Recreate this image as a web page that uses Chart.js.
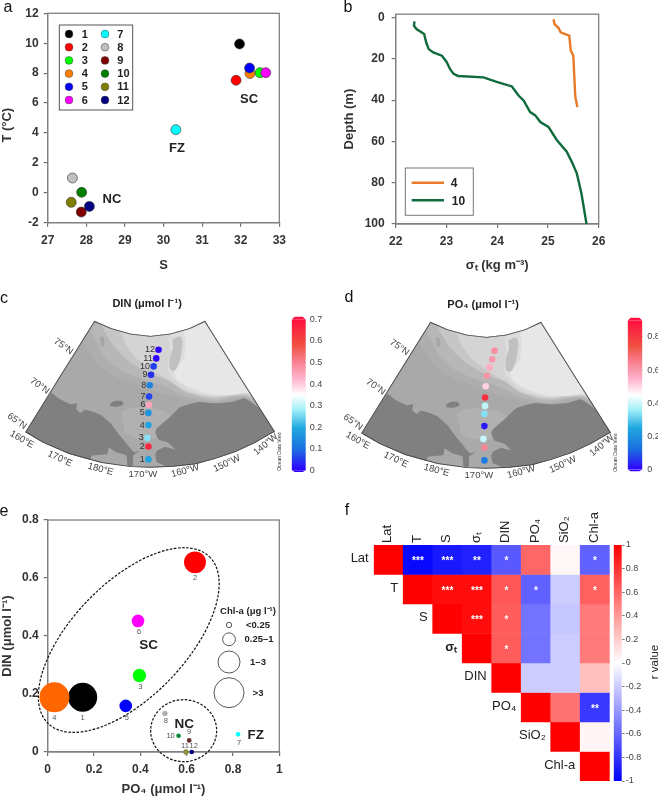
<!DOCTYPE html>
<html><head><meta charset="utf-8">
<script src="https://cdn.jsdelivr.net/npm/chart.js@4"></script>
<style>
html,body{margin:0;padding:0;background:#fff;width:658px;height:797px;overflow:hidden}
#page{position:relative;width:658px;height:797px}
canvas{position:absolute;filter:blur(0.3px)}
</style></head><body><div id="page"></div>
<script>
// ---------- data ----------
const stations=['1','2','3','4','5','6','7','8','9','10','11','12'];
const stationColors=['#000000','#ff0000','#00ff00','#ff8000','#0000ff','#ff00ff','#00ffff','#c0c0c0','#800000','#008000','#808000','#000080'];
const salinity=[31.97,31.88,32.5,32.24,32.23,32.65,30.32,27.64,27.87,27.88,27.61,28.08];
const temperature=[9.95,7.52,8.03,7.97,8.34,8.03,4.22,0.99,-1.29,0.03,-0.64,-0.91];
const sigma4=[25.11,25.13,25.21,25.25,25.42,25.45,25.5,25.52,25.54,25.58];
const depth4=[0.8,3.2,5.1,7.2,8.8,16,18.5,29,38.6,43.4];
const sigma10=[22.37,22.36,22.41,22.56,22.6,22.65,22.74,22.91,23.0,23.07,23.14,23.23,23.73,23.99,24.29,24.42,24.52,24.65,24.75,24.85,25.01,25.17,25.37,25.48,25.57,25.66,25.76];
const depth10=[1.9,4,5.6,8,12,15.3,16.9,18.5,21.4,24.9,27.3,28.3,29,31.2,33.4,37.8,40.2,45.8,47.4,50.6,53,59.2,65,70.4,75.6,85.2,100];
const din=[0.1885,0.654,0.264,0.1885,0.159,0.452,0.061,0.133,0.04,0.056,0,0];
const po4=[0.151,0.636,0.396,0.029,0.337,0.39,0.822,0.506,0.611,0.565,0.597,0.622];
const chlA=[4.55,2.6,0.97,4.87,0.86,0.86,0.11,0.16,0.12,0.12,0.16,0.11];
// station positions on the map, and map shapes, in map units
const stationMapX=[444,444,441,444,444,446,446,448,452,460,468,475];
const stationMapY=[547,507,480,440,402,377,351,316,283,257,232,205];
const sectorShape=[[65,462],[170,290],[278,115],[330,138],[390,155],[450,162],[510,155],[570,138],[618,115],[725,288],[833,460],[770,497],[710,525],[650,545],[590,562],[520,570],[450,573],[390,571],[300,558],[200,530],[120,495]];
const shelfA=[[250,150],[450,130],[650,100],[800,385],[740,358],[640,375],[560,362],[500,347],[430,322],[350,292],[290,252],[255,195],[230,170]];
const shelfB=[[270,100],[450,130],[650,100],[800,383],[740,352],[640,365],[550,348],[500,322],[430,298],[360,268],[310,228],[285,180],[262,140]];
const shelfC=[[290,110],[450,130],[650,100],[800,380],[745,348],[640,358],[560,338],[510,304],[450,280],[390,245],[335,190],[310,150]];
const shelfTop=[[350,130],[450,140],[650,100],[800,378],[745,345],[640,352],[555,332],[505,298],[460,272],[410,235],[375,190]];
const shelfE=[[520,130],[650,100],[800,378],[750,343],[640,350],[565,328],[525,300],[505,270],[510,215],[505,170]];
const shelfD=[[550,130],[650,100],[800,372],[755,340],[700,346],[630,343],[570,322],[530,295],[525,265],[552,235],[558,180]];
const streakWest=[[295,165],[305,165],[308,190],[298,195]];
const streakEast=[[518,172],[543,165],[547,200],[530,265],[512,268],[510,230],[520,200]];
const channel=[[360,400],[400,385],[470,390],[510,410],[500,440],[470,462],[465,480],[380,470],[365,430]];
const russia=[[65,462],[145,340],[170,358],[205,375],[225,372],[222,390],[235,402],[248,392],[270,397],[300,410],[330,437],[350,465],[372,492],[400,525],[418,520],[397,535],[396,568],[380,566],[376,535],[345,525],[322,510],[318,530],[272,535],[262,550],[200,530],[120,495]];
const alaska=[[787,388],[740,356],[700,368],[650,372],[600,368],[570,375],[540,385],[510,415],[470,450],[465,462],[475,485],[505,495],[525,515],[495,508],[470,520],[465,535],[470,555],[500,568],[520,570],[590,562],[650,545],[710,525],[770,497],[833,460]];
const wrangel=[[325,375],[340,365],[360,365],[367,375],[350,382],[330,382]];
const gridLabels=['75°N','70°N','65°N','160°E','170°E','180°E','170°W','160°W','150°W','140°W'];
const gridLabelX=[183,110,40,55,172,297,427,557,685,805];
const gridLabelY=[195,318,428,485,545,578,593,583,560,500];
const gridLabelAngle=[35,35,35,30,25,15,0,-15,-25,-40];
// correlation matrix (upper triangle)
const vars=['Lat','T','S','σₜ','DIN','PO₄','SiO₂','Chl-a'];
const corr=[
[1,-0.97,-0.9,-0.87,-0.65,0.6,0.03,-0.62],
[null,1,0.95,0.95,0.66,-0.62,-0.2,0.62],
[null,null,1,0.95,0.64,-0.55,-0.22,0.52],
[null,null,null,1,0.64,-0.55,-0.2,0.52],
[null,null,null,null,1,-0.2,-0.2,0.25],
[null,null,null,null,null,1,0.55,-0.78],
[null,null,null,null,null,null,1,0.04],
[null,null,null,null,null,null,null,1]];
const stars=[
['','***','***','**','*','','','*'],
['','','***','***','*','*','','*'],
['','','','***','*','','',''],
['','','','','*','','',''],
[],[ '','','','','','','','**'],[],[]];
const odvStops=[[0,'#3000ff'],[0.14,'#1a70e0'],[0.28,'#20a8e0'],[0.4,'#a0f0f8'],[0.5,'#ffffff'],[0.6,'#ffb8d0'],[0.72,'#f88090'],[0.83,'#f05040'],[1,'#ff1040']];
const rStops=[[0,'#0000ff'],[0.5,'#ffffff'],[1,'#ff0000']];

// ---------- helpers ----------
const FONT='"Liberation Sans",Arial,sans-serif';
Chart.defaults.font.family=FONT;
Chart.defaults.animation=false;
Chart.defaults.responsive=false;
Chart.defaults.plugins.legend.display=false;
Chart.defaults.plugins.tooltip.enabled=false;
const page=document.getElementById('page');
function canvas(l,t,w,h){const c=document.createElement('canvas');c.width=w;c.height=h;c.style.left=l+'px';c.style.top=t+'px';c.style.width=w+'px';c.style.height=h+'px';page.appendChild(c);return c;}
function txt(ctx,s,x,y,font,color,align,rot){ctx.save();ctx.translate(x,y);if(rot)ctx.rotate(rot*Math.PI/180);ctx.font=font;ctx.fillStyle=color||'#222';ctx.textAlign=align||'center';ctx.textBaseline='middle';ctx.fillText(s,0,0);ctx.restore();}
function hex(h){return [1,3,5].map(i=>parseInt(h.substr(i,2),16));}
function ramp(stops,t){t=Math.max(0,Math.min(1,t));for(let i=1;i<stops.length;i++){if(t<=stops[i][0]){const a=stops[i-1],b=stops[i],f=(t-a[0])/(b[0]-a[0]),A=hex(a[1]),B=hex(b[1]);return 'rgb('+A.map((v,k)=>Math.round(v+(B[k]-v)*f)).join(',')+')';}}return stops[stops.length-1][1];}
const frame={id:'frame',beforeDatasetsDraw(ch){const a=ch.chartArea,c=ch.ctx;c.save();c.strokeStyle='#808080';c.lineWidth=1.3;c.strokeRect(a.left,a.top,a.width,a.height);c.restore();}};
function axis(o){return Object.assign({grid:{drawOnChartArea:false,tickLength:4,color:'#707070',lineWidth:1.2},border:{color:'#808080',width:1.2}},o);}
const tickFont={size:12,weight:'bold'};
const titleFont={size:13,weight:'bold'};

// ---------- panel letters ----------
const letters=canvas(0,0,658,797);
{const c=letters.getContext('2d');[['a',8,8],['b',348,8],['c',4,299],['d',349,298],['e',4,512],['f',347,511]].forEach(p=>txt(c,p[0],p[1],p[2],'16px '+FONT,'#111','center'));}

// ---------- a ----------
new Chart(canvas(0,0,320,274),{type:'scatter',
 data:{datasets:[{data:salinity.map((s,i)=>({x:s,y:temperature[i]})),pointRadius:5,pointBackgroundColor:stationColors,pointBorderColor:'#333',pointBorderWidth:0.6,clip:false}]},
 options:{layout:{padding:{top:13.3,right:40.7}},
 scales:{
  x:axis({type:'linear',min:27,max:33,ticks:{stepSize:1,font:tickFont,color:'#333',padding:7,maxRotation:0},title:{display:true,text:'S',font:titleFont,color:'#333',padding:{bottom:1}},afterFit(s){s.height=51.3;}}),
  y:axis({type:'linear',min:-2,max:12,ticks:{stepSize:2,font:tickFont,color:'#333',padding:5},title:{display:true,text:'T (°C)    ',font:titleFont,color:'#333',padding:{top:0,bottom:0}},afterFit(s){s.width=47.7;}})}},
 plugins:[frame,{id:'lg',afterDatasetsDraw(ch){const c=ch.ctx;c.save();c.strokeStyle='#555';c.lineWidth=1;c.strokeRect(59.3,25,73.4,85);
  stations.forEach((n,i)=>{const col=i<6?0:1,row=i%6,y=34+row*13.2,mx=col?105:69;c.beginPath();c.arc(mx,y,3.9,0,7);c.fillStyle=stationColors[i];c.fill();c.strokeStyle='#444';c.lineWidth=0.5;c.stroke();txt(c,n,col?117.3:81.7,y+0.5,'bold 11px '+FONT,'#222','left');});
  [['SC',249,99],['FZ',177,148],['NC',112,199]].forEach(p=>txt(c,p[0],p[1],p[2],'bold 13px '+FONT,'#222'));c.restore();}}]});

// ---------- b ----------
new Chart(canvas(330,0,300,274),{type:'scatter',
 data:{datasets:[
  {label:'4',data:sigma4.map((s,i)=>({x:s,y:depth4[i]})),showLine:true,borderColor:'#ea7a28',borderWidth:2.4,pointRadius:0},
  {label:'10',data:sigma10.map((s,i)=>({x:s,y:depth10[i]})),showLine:true,borderColor:'#0f6b3c',borderWidth:2.4,pointRadius:0}]},
 options:{layout:{padding:{top:13.3,right:31.3}},
 scales:{
  x:axis({type:'linear',min:22,max:26,ticks:{stepSize:1,font:tickFont,color:'#333',padding:6,maxRotation:0},title:{display:true,text:'σₜ (kg m⁻³)',font:titleFont,color:'#333',padding:{bottom:1}},afterFit(s){s.height=50;}}),
  y:axis({type:'linear',reverse:true,min:-1.6,max:100,ticks:{font:tickFont,color:'#333',padding:7},afterBuildTicks(s){s.ticks=[0,20,40,60,80,100].map(v=>({value:v}));},title:{display:true,text:'Depth (m)',font:titleFont,color:'#333',padding:{top:12,bottom:0}},afterFit(s){s.width=65.7;}})}},
 plugins:[frame,{id:'lg',afterDatasetsDraw(ch){const c=ch.ctx;c.save();c.strokeStyle='#777';c.lineWidth=1;c.strokeRect(75.3,168,68,47.3);
  c.lineWidth=2.4;c.strokeStyle='#ea7a28';c.beginPath();c.moveTo(81.7,182.7);c.lineTo(114,182.7);c.stroke();c.strokeStyle='#0f6b3c';c.beginPath();c.moveTo(81.7,200.3);c.lineTo(114,200.3);c.stroke();
  txt(c,'4',124,184,'bold 12px '+FONT,'#222');txt(c,'10',128.5,201.5,'bold 12px '+FONT,'#222');c.restore();}}]});

// ---------- c, d maps ----------
function xy(p){return p.map(q=>({x:q[0],y:q[1]}));}
function layer(shape,color,tension){return {data:xy(shape),showLine:true,fill:'shape',backgroundColor:color,borderColor:color,borderWidth:0,pointRadius:0,tension:tension};}
function sectorPath(c,sx,sy){c.beginPath();sectorShape.forEach((q,i)=>{const X=sx.getPixelForValue(q[0]),Y=sy.getPixelForValue(q[1]);i?c.lineTo(X,Y):c.moveTo(X,Y);});c.closePath();}
function mapChart(l,t,values,vmax,title,numbers){
 const layers=[layer(sectorShape,'#a9a9a9',0),layer(shelfA,'#aeaeae',0.3),layer(shelfB,'#b7b7b7',0.3),layer(shelfC,'#c6c6c6',0.3),layer(shelfTop,'#d4d4d4',0.3),layer(shelfE,'#dcdcdc',0.3),layer(shelfD,'#e7e7e7',0.3),layer(streakEast,'#c0c0c0',0.4),layer(streakWest,'#a6a6a6',0.4),layer(channel,'#b1b1b1',0.4),layer(russia,'#808080',0.12),layer(alaska,'#808080',0.12),layer(wrangel,'#808080',0.4)];
 const outline={data:xy(sectorShape.concat([sectorShape[0]])),showLine:true,fill:false,borderColor:'#4a4a4a',borderWidth:1.8,pointRadius:0};
 const pts={data:stationMapX.map((x,i)=>({x:x,y:stationMapY[i]})),pointRadius:3.3,pointBorderWidth:0,pointBackgroundColor:values.map(v=>ramp(odvStops,v/vmax))};
 new Chart(canvas(l,t,330,210),{type:'scatter',
  data:{datasets:[pts,outline].concat(layers.reverse())},
  options:{layout:{padding:0},scales:{x:{type:'linear',min:0,max:990,display:false},y:{type:'linear',reverse:true,min:0,max:630,display:false}}},
  plugins:[{id:'maptext',
   beforeDatasetsDraw(ch){const c=ch.ctx;c.save();sectorPath(c,ch.scales.x,ch.scales.y);c.clip();},
   afterDatasetsDraw(ch){const c=ch.ctx,sx=ch.scales.x,sy=ch.scales.y;c.restore();
   gridLabels.forEach((s,i)=>txt(c,s,sx.getPixelForValue(gridLabelX[i]),sy.getPixelForValue(gridLabelY[i]),'9.5px '+FONT,'#444','center',gridLabelAngle[i]));
   txt(c,title,sx.getPixelForValue(440),sy.getPixelForValue(62),'bold 11px '+FONT,'#222');
   txt(c,'Ocean Data View',sx.getPixelForValue(848),sy.getPixelForValue(522),'5px '+FONT,'#333','center',-90);
   if(numbers)stations.forEach((n,i)=>txt(c,n,sx.getPixelForValue(stationMapX[i]-11),sy.getPixelForValue(stationMapY[i]),'9px '+FONT,'#333','right'));
  }}]});
}
mapChart(0,280,din,0.7,'DIN (μmol l⁻¹)',true);
mapChart(336.3,280.7,po4,0.9,'PO₄ (μmol l⁻¹)',false);

// ---------- colour bars ----------
function colorbar(o){
 new Chart(canvas(o.l,o.t,o.w,o.h),{type:'bar',
  data:{labels:[''],datasets:[{data:[[o.min,o.max]],barPercentage:1,categoryPercentage:1,borderWidth:0,backgroundColor(ctx){const a=ctx.chart.chartArea;if(!a)return '#fff';const g=ctx.chart.ctx.createLinearGradient(0,a.bottom,0,a.top);o.stops.forEach(s=>g.addColorStop(s[0],s[1]));return g;}}]},
  options:{layout:{padding:o.pad},
   scales:{x:{display:false},
    y:{type:'linear',position:'right',min:o.min,max:o.max,
     afterBuildTicks(s){s.ticks=o.ticks.map(v=>({value:v}));},
     ticks:{font:{size:o.fs},color:'#444',padding:o.tp,callback:v=>+v.toFixed(1)},
     grid:{drawOnChartArea:false,tickLength:o.tl,color:'#666',lineWidth:0.8},border:{display:false},
     afterFit(s){s.width=o.axisW;}}}},
  plugins:[{id:'ends',afterDatasetsDraw(ch){const a=ch.chartArea,c=ch.ctx;if(o.caps){c.save();
    c.fillStyle=o.stops[o.stops.length-1][1];c.beginPath();c.moveTo(a.left,a.top);c.lineTo(a.left+3,a.top-o.capTop);c.lineTo(a.right-3,a.top-o.capTop);c.lineTo(a.right,a.top);c.fill();
    c.fillStyle=o.stops[0][1];c.beginPath();c.moveTo(a.left,a.bottom);c.lineTo(a.left+3,a.bottom+1.6);c.lineTo(a.right-3,a.bottom+1.6);c.lineTo(a.right,a.bottom);c.fill();c.restore();}
    if(o.after)o.after(c,a);}}]});
}
colorbar({l:290,t:310,w:46,h:170,min:0,max:0.7,stops:odvStops,ticks:[0,0.1,0.2,0.3,0.4,0.5,0.6,0.7],fs:9,tl:0,tp:4,axisW:30.3,pad:{left:1.7,top:8.7,bottom:9.7},caps:true,capTop:2.7});
colorbar({l:626,t:310,w:32,h:170,min:0,max:0.9,stops:odvStops,ticks:[0,0.2,0.4,0.6,0.8],fs:9,tl:0,tp:5,axisW:15.7,pad:{left:1.7,top:9.9,bottom:8.7},caps:true,capTop:2.6});

// ---------- e ----------
const radii=chlA.map(v=>6.8*Math.sqrt(v));
const numDx=[0,0,1,0,1,1,1,1,0,-8,-1,2];
const numDy=[6,5,5,6,6,5,6,5,-8,0,-6,-6];
new Chart(canvas(0,505,322,292),{type:'bubble',
 data:{datasets:[{data:po4.map((p,i)=>({x:p,y:din[i],r:radii[i]})),backgroundColor:stationColors.map((c,i)=>({2:'#00ff00',3:'#ff6600',7:'#b0b0b0',8:'#6b2e2e',9:'#0f8a3c',10:'#8f8f3a'}[i]||c)),borderWidth:0,clip:false}]},
 options:{layout:{padding:{top:15,right:42.7}},
 scales:{
  x:axis({type:'linear',min:0,max:1,ticks:{stepSize:0.2,font:tickFont,color:'#333',padding:6,maxRotation:0,callback:v=>+v.toFixed(1)},title:{display:true,text:'PO₄ (μmol l⁻¹)',font:titleFont,color:'#333',padding:{bottom:0}},afterFit(s){s.height=45;}}),
  y:axis({type:'linear',min:0,max:0.8,ticks:{stepSize:0.2,font:tickFont,color:'#333',padding:5,callback:v=>+v.toFixed(1)},title:{display:true,text:'DIN (μmol l⁻¹)',font:titleFont,color:'#333',padding:{top:0,bottom:0}},afterFit(s){s.width=47.7;}})}},
 plugins:[frame,{id:'ann',afterDatasetsDraw(ch){const c=ch.ctx,X=ch.scales.x,Y=ch.scales.y;c.save();
  c.setLineDash([2.6,1.5]);c.lineWidth=1.2;c.strokeStyle='#111';
  c.beginPath();c.ellipse(X.getPixelForValue(0.35),Y.getPixelForValue(0.386),116,57,-46*Math.PI/180,0,7);c.stroke();
  c.beginPath();c.ellipse(X.getPixelForValue(0.587),Y.getPixelForValue(0.0736),33,31,0,0,7);c.stroke();
  c.setLineDash([]);
  stations.forEach((n,i)=>txt(c,n,X.getPixelForValue(po4[i])+numDx[i],Y.getPixelForValue(din[i])+(numDy[i]>0?radii[i]+numDy[i]:numDy[i]),'7.5px '+FONT,'#555','center'));
  [['SC',0.436,0.368],['NC',0.59,0.097],['FZ',0.898,0.056]].forEach(p=>txt(c,p[0],X.getPixelForValue(p[1]),Y.getPixelForValue(p[2]),'bold 13.5px '+FONT,'#222'));
  txt(c,'Chl-a (μg l⁻¹)',248,106.7,'bold 9.5px '+FONT,'#222');
  [['<0.25',2.7,120,258],['0.25–1',6.4,134.3,259],['1–3',11,157,258],['>3',15,187.7,258]].forEach(p=>{c.beginPath();c.arc(229,p[2],p[1],0,7);c.strokeStyle='#444';c.lineWidth=0.9;c.stroke();txt(c,p[0],p[3],p[2]+0.5,'bold 9.5px '+FONT,'#222');});
  c.restore();}}]});

// ---------- f ----------
new Chart(canvas(330,500,300,297),{type:'bar',
 data:{labels:vars,datasets:corr.map((row,r)=>({data:row.map(v=>v===null?null:[r,r+1]),backgroundColor:row.map(v=>v===null?'#fff':ramp(rStops,(v+1)/2)),borderWidth:0,barPercentage:1,categoryPercentage:1,grouped:false}))},
 options:{layout:{padding:{left:43.7,right:20.3,bottom:16}},
 scales:{
  x:{position:'top',grid:{display:false},border:{display:false},ticks:{minRotation:90,maxRotation:90,font:{size:13},color:'#222',padding:-6,labelOffset:15,autoSkip:false},afterFit(s){s.height=45;}},
  y:{display:false,reverse:true,min:0,max:8}}},
 plugins:[{id:'hm',afterDatasetsDraw(ch){const c=ch.ctx,X=ch.scales.x,Y=ch.scales.y,cw=ch.chartArea.width/8;
  stars.forEach((row,r)=>row.forEach((s,k)=>{if(s)txt(c,s,X.getPixelForValue(k),Y.getPixelForValue(r+0.5)+1.5,'bold 10px '+FONT,'#fff');}));
  vars.forEach((v,i)=>txt(c,v,ch.chartArea.left+i*cw-5,Y.getPixelForValue(i+0.47),(v==='σₜ'?'bold ':'')+'13px '+FONT,'#222','right'));
 }}]});
colorbar({l:610,t:535,w:48,h:256,min:-1,max:1,stops:rStops,ticks:[-1,-0.8,-0.6,-0.4,-0.2,0,0.2,0.4,0.6,0.8,1],fs:9,tl:3,tp:1,axisW:36.3,pad:{left:3.7,top:10,bottom:10},caps:false,
 after(c,a){txt(c,'r value',a.right+33,a.top+117,'11.5px '+FONT,'#222','center',-90);}});
</script></body></html>
